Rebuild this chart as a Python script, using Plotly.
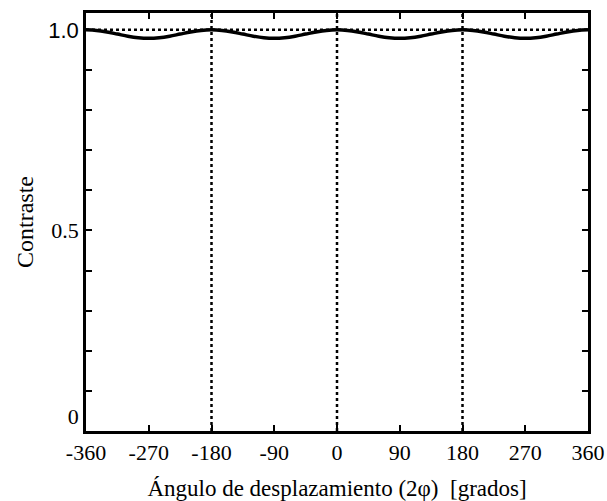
import plotly.graph_objects as go

angles = [-360, -345, -330, -315, -300, -285, -270, -255, -240, -225, -210, -195,
          -180, -165, -150, -135, -120, -105, -90, -75, -60, -45, -30, -15,
          0, 15, 30, 45, 60, 75, 90, 105, 120, 135, 150, 165,
          180, 195, 210, 225, 240, 255, 270, 285, 300, 315, 330, 345, 360]
contrast = [1.0, 0.9986, 0.9947, 0.9895, 0.9842, 0.9804, 0.979, 0.9804, 0.9842, 0.9895, 0.9947, 0.9986,
            1.0, 0.9986, 0.9947, 0.9895, 0.9842, 0.9804, 0.979, 0.9804, 0.9842, 0.9895, 0.9947, 0.9986,
            1.0, 0.9986, 0.9947, 0.9895, 0.9842, 0.9804, 0.979, 0.9804, 0.9842, 0.9895, 0.9947, 0.9986,
            1.0, 0.9986, 0.9947, 0.9895, 0.9842, 0.9804, 0.979, 0.9804, 0.9842, 0.9895, 0.9947, 0.9986, 1.0]

x_ticks = [-360, -270, -180, -90, 0, 90, 180, 270, 360]
y_ticks = [0, 0.1, 0.2, 0.3, 0.4, 0.5, 0.6, 0.7, 0.8, 0.9, 1.0]
y_labels = ["0<br> ", "", "", "", "", "0.5", "", "", "", "",
            '<span style="font-family:Liberation Sans, Arial">1.0</span>']
ref_lines_x = [-180, 0, 180]
ref_line_y = 1.0

fig = go.Figure()
fig.add_trace(go.Scatter(x=angles, y=contrast, mode="lines",
                         line=dict(color="black", width=3.5, shape="spline"),
                         showlegend=False))

for xv in ref_lines_x:
    fig.add_shape(type="line", xref="x", yref="paper", x0=xv, x1=xv, y0=0, y1=1,
                  line=dict(color="black", width=2.5, dash="dot"), layer="below")
fig.add_shape(type="line", xref="paper", yref="y", x0=0, x1=1, y0=ref_line_y, y1=ref_line_y,
              line=dict(color="black", width=2.5, dash="dot"), layer="below")

fig.update_layout(
    width=607, height=501,
    margin=dict(l=86, r=19, t=13, b=70, autoexpand=False),
    plot_bgcolor="white", paper_bgcolor="white",
    font=dict(family="Liberation Serif, Times New Roman, serif", color="black", size=22),
    xaxis=dict(range=[-360, 360], tickvals=x_ticks, ticktext=[str(v) for v in x_ticks],
               ticks="inside", ticklen=6, tickwidth=1.5, tickcolor="black",
               showline=True, linewidth=2.5, linecolor="black", mirror="ticks",
               showgrid=False, zeroline=False, automargin=False,
               title=dict(text="Ángulo de desplazamiento (2φ)  [grados]",
                          font=dict(size=23), standoff=16)),
    yaxis=dict(range=[0, 1.042], tickvals=y_ticks, ticktext=y_labels,
               ticks="inside", ticklen=6, tickwidth=1.5, tickcolor="black",
               showline=True, linewidth=2.5, linecolor="black", mirror="ticks",
               showgrid=False, zeroline=False, automargin=False,
               title=dict(text="Contraste", font=dict(size=24), standoff=8)),
)

fig.write_html("out.html")
